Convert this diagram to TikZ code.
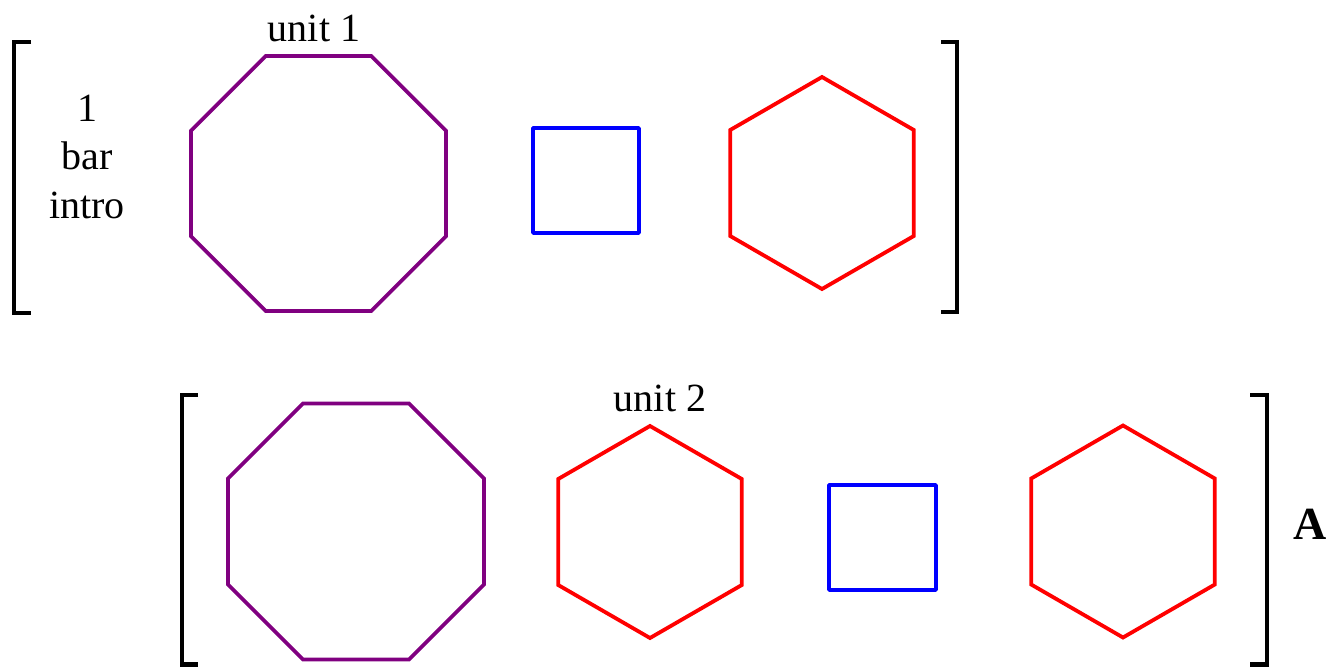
\documentclass[tikz,border=0pt]{standalone}
\usepackage{fontspec}
\setmainfont{Liberation Serif}
\newfontfamily\tmsfont{Liberation Serif}
\usetikzlibrary{calc}
\definecolor{mypurple}{HTML}{800080}
\definecolor{myred}{HTML}{FF0000}
\definecolor{myblue}{HTML}{0000FF}
\begin{document}
\begin{tikzpicture}[x=1pt,y=-1pt,
  octa/.style={draw=mypurple,line width=3.8pt,line join=miter},
  hexa/.style={draw=myred,line width=3.8pt,line join=miter},
  sqr/.style={draw=myblue,line width=3.8pt,line join=round},
  brk/.style={draw=black,line width=4.5pt,line join=miter},
  lbl/.style={font=\tmsfont\fontsize{40}{48.5}\selectfont,anchor=base,inner sep=0pt,align=center}]
\useasboundingbox (0,0) rectangle (1331,667);
% centres
\coordinate (o1) at (318.5,183.5);
\coordinate (o2) at (356,531.5);
\coordinate (h1) at (822,183);
\coordinate (h2) at (650,532);
\coordinate (h3) at (1123,531.5);
% octagons
\draw[octa] ($(o1)+(22.5:138)$) \foreach \a in {67.5,112.5,...,337.5}{ -- ($(o1)+(\a:138)$)} -- cycle;
\draw[octa] ($(o2)+(22.5:138.5)$) \foreach \a in {67.5,112.5,...,337.5}{ -- ($(o2)+(\a:138.5)$)} -- cycle;
% hexagons
\draw[hexa] ($(h1)+(90:106)$) \foreach \a in {150,210,...,450}{ -- ($(h1)+(\a:106)$)} -- cycle;
\draw[hexa] ($(h2)+(90:106)$) \foreach \a in {150,210,...,450}{ -- ($(h2)+(\a:106)$)} -- cycle;
\draw[hexa] ($(h3)+(90:106)$) \foreach \a in {150,210,...,450}{ -- ($(h3)+(\a:106)$)} -- cycle;
% squares
\draw[sqr] (533,128) rectangle (639,233);
\draw[sqr] (829,485) rectangle (936,590);
% brackets
\draw[brk] (31,42) -- (14,42) -- (14,313) -- (31,313);
\draw[brk] (941,42) -- (957,42) -- (957,312) -- (941,312);
\draw[brk] (198,395) -- (182,395) -- (182,664.5) -- (198,664.5);
\draw[brk] (1250,395) -- (1267,395) -- (1267,664.5) -- (1250,664.5);
% labels
\node[lbl] (u1) at (314,41) {unit 1};
\node[lbl] (u2) at (660,411) {unit 2};
\node[lbl,anchor=base] (intro) at (87,218) {1\\bar\\intro};
\node[lbl,font=\tmsfont\fontsize{46}{50}\selectfont\bfseries] (A) at (1310,539) {A};
\end{tikzpicture}
\end{document}
